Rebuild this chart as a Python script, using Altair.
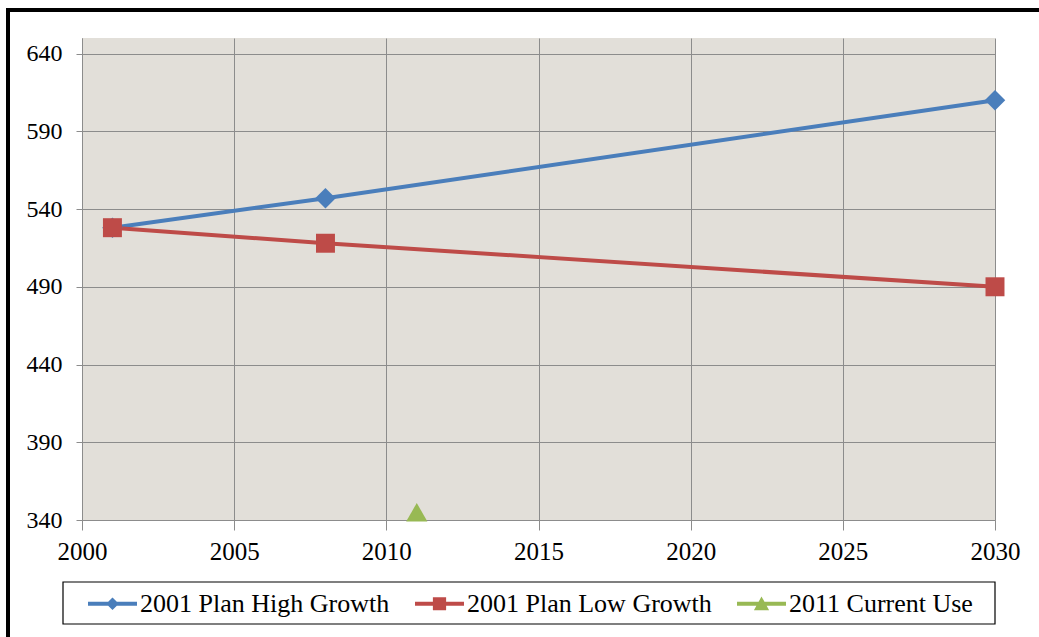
import altair as alt
import pandas as pd

# Series data
years_high = [2001, 2008, 2030]
high_growth = [528, 547, 610]
years_low = [2001, 2008, 2030]
low_growth = [528, 518, 490]
years_current = [2011]
current_use = [345]

series_names = ["2001 Plan High Growth", "2001 Plan Low Growth", "2011 Current Use"]
series_colors = ["#4A7EBB", "#BE4B48", "#98B954"]
series_shapes = ["diamond", "square", "triangle-up"]
series_sizes = [420, 360, 450]

# Legend glyphs: a short line with the series marker sitting on it
legend_paths = [
    "M-1,-0.085H1V0.085H-1Z M0,-0.26L0.26,0L0,0.26L-0.26,0Z",
    "M-1,-0.085H1V0.085H-1Z M-0.27,-0.27H0.27V0.27H-0.27Z",
    "M-1,-0.085H1V0.085H-1Z M0,-0.3L0.31,0.27H-0.31Z",
]

x_ticks = [2000, 2005, 2010, 2015, 2020, 2025, 2030]
y_ticks = [340, 390, 440, 490, 540, 590, 640]

rows = []
for y, v in zip(years_high, high_growth):
    rows.append({"year": y, "value": v, "series": series_names[0]})
for y, v in zip(years_low, low_growth):
    rows.append({"year": y, "value": v, "series": series_names[1]})
for y, v in zip(years_current, current_use):
    rows.append({"year": y, "value": v, "series": series_names[2]})
df = pd.DataFrame(rows)

W, H = 913, 482

x_enc = alt.X(
    "year:Q",
    scale=alt.Scale(domain=[2000, 2030], nice=False, zero=False),
    axis=alt.Axis(values=x_ticks, format="d", title=None, grid=True, labelFlush=False),
)
y_enc = alt.Y(
    "value:Q",
    scale=alt.Scale(domain=[340, 650], nice=False, zero=False),
    axis=alt.Axis(values=y_ticks, format="d", title=None, grid=True, labelFlush=False),
)

legend = alt.Legend(
    title=None,
    orient="none",
    direction="horizontal",
    legendX=6,
    legendY=541,
    padding=0,
    columnPadding=25,
    symbolSize=2401,
    symbolStrokeWidth=0,
    symbolOpacity=1,
    labelOffset=3,
    labelFont="Liberation Serif",
    labelFontSize=26,
    labelColor="#000000",
    labelLimit=400,
)

base = alt.Chart(df).encode(x=x_enc, y=y_enc)

# One line layer and one marker layer per series, each with fixed colour
line_layers = [
    base.transform_filter(alt.datum.series == name).mark_line(strokeWidth=4, color=color)
    for name, color in zip(series_names[:2], series_colors[:2])
]
marker_layers = [
    base.transform_filter(alt.datum.series == name)
    .mark_point(filled=True, opacity=1, shape=shape, size=size, color=color)
    for name, shape, size, color in zip(series_names, series_shapes, series_sizes, series_colors)
]

# Legend-only layer (no rows drawn): line-and-marker glyphs per series
legend_layer = (
    base.transform_filter("false")
    .mark_point(filled=True, opacity=1)
    .encode(
        color=alt.Color("series:N", scale=alt.Scale(domain=series_names, range=series_colors), legend=legend),
        shape=alt.Shape("series:N", scale=alt.Scale(domain=series_names, range=legend_paths), legend=legend),
    )
)

# Outer frame and legend box
frame = alt.Chart(pd.DataFrame({"k": [0]})).mark_rect(
    stroke="#000000", strokeWidth=4, filled=False
).encode(
    x=alt.value(-74), x2=alt.value(1100), y=alt.value(-28), y2=alt.value(700)
)
legend_box = alt.Chart(pd.DataFrame({"k": [0]})).mark_rect(
    stroke="#000000", strokeWidth=1.2, filled=False
).encode(
    x=alt.value(-19), x2=alt.value(913), y=alt.value(544), y2=alt.value(586)
)

chart = (
    alt.layer(*line_layers, *marker_layers, legend_layer, frame, legend_box)
    .properties(
        width=W,
        height=H,
        autosize=alt.AutoSizeParams(type="none"),
        padding={"left": 82, "top": 38, "right": 44, "bottom": 117},
        background="#FFFFFF",
    )
    .configure_view(fill="#E2DFD9", stroke=None)
    .configure_axis(
        labelFont="Liberation Serif",
        labelColor="#000000",
        gridColor="#8C8C8C",
        gridWidth=1,
        domainColor="#8C8C8C",
        domainWidth=1,
        tickColor="#8C8C8C",
        tickWidth=1,
    )
    .configure_axisX(tickSize=10, labelPadding=9, labelFontSize=25, domain=True)
    .configure_axisY(tickSize=6, labelPadding=14, labelFontSize=24, domain=True)
)

chart.save("out.html", embed_options={"renderer": "svg", "actions": False})
